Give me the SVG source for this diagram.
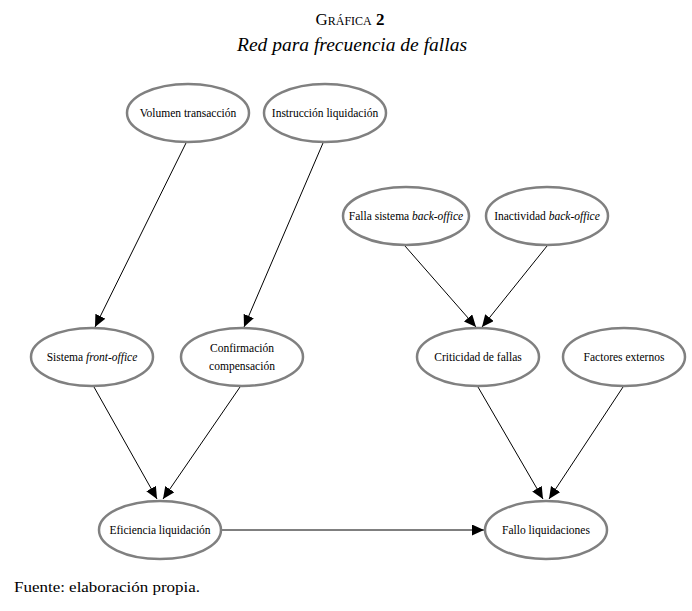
<svg xmlns="http://www.w3.org/2000/svg" width="692" height="611" viewBox="0 0 692 611">
<defs>
<style>
.node ellipse{fill:#fff;stroke:#808080;stroke-width:2.5}
.node text{font-family:"Liberation Serif","Times New Roman",serif;font-size:11.5px;fill:#000;text-anchor:middle}
.edge{stroke:#000;stroke-width:1;fill:none;marker-end:url(#arr)}
.it{font-style:italic}
.title{font-family:"Liberation Serif","Times New Roman",serif;fill:#000;text-anchor:middle}
</style>
<marker id="arr" markerUnits="userSpaceOnUse" markerWidth="14" markerHeight="12" refX="12" refY="5.5" orient="auto">
<path d="M0,0 L12,5.5 L0,11 z" fill="#000"/>
</marker>
</defs>
<rect width="692" height="611" fill="#fff"/>
<text class="title" x="350" y="25" font-size="17" style="font-variant:small-caps">Gráfica <tspan font-weight="bold">2</tspan></text>
<text class="title" x="352" y="51" font-size="18" font-style="italic" textLength="230" lengthAdjust="spacingAndGlyphs">Red para frecuencia de fallas</text>
<g id="edges">
<line class="edge" x1="186" y1="143" x2="95" y2="327"/>
<line class="edge" x1="323" y1="143" x2="244" y2="327"/>
<line class="edge" x1="405" y1="246" x2="476" y2="327"/>
<line class="edge" x1="547" y1="246" x2="482" y2="327"/>
<line class="edge" x1="94" y1="387" x2="157" y2="499"/>
<line class="edge" x1="240" y1="387" x2="163" y2="499"/>
<line class="edge" x1="478" y1="387" x2="543" y2="499"/>
<line class="edge" x1="623" y1="387" x2="549" y2="499"/>
<line class="edge" x1="222" y1="530" x2="484" y2="530"/>
</g>
<g id="n1" class="node"><ellipse cx="188" cy="113" rx="61" ry="29"/><text x="188" y="117">Volumen transacción</text></g>
<g id="n2" class="node"><ellipse cx="325" cy="113" rx="61" ry="29"/><text x="325" y="117">Instrucción liquidación</text></g>
<g id="n3" class="node"><ellipse cx="406" cy="216" rx="63" ry="29"/><text x="406" y="220">Falla sistema <tspan class="it">back-office</tspan></text></g>
<g id="n4" class="node"><ellipse cx="547" cy="216" rx="61" ry="29"/><text x="547" y="220">Inactividad <tspan class="it">back-office</tspan></text></g>
<g id="n5" class="node"><ellipse cx="92" cy="357" rx="61" ry="29"/><text x="92" y="361">Sistema <tspan class="it">front-office</tspan></text></g>
<g id="n6" class="node"><ellipse cx="242" cy="357" rx="61" ry="29"/><text x="242" y="352">Confirmación</text><text x="242" y="370">compensación</text></g>
<g id="n7" class="node"><ellipse cx="478" cy="357" rx="61" ry="29"/><text x="478" y="361">Criticidad de fallas</text></g>
<g id="n8" class="node"><ellipse cx="624" cy="357" rx="61" ry="29"/><text x="624" y="361">Factores externos</text></g>
<g id="n9" class="node"><ellipse cx="160" cy="530" rx="61" ry="29"/><text x="160" y="534">Eficiencia liquidación</text></g>
<g id="n10" class="node"><ellipse cx="546" cy="530" rx="61" ry="29"/><text x="546" y="534">Fallo liquidaciones</text></g>
<text x="14" y="592" font-family="Liberation Serif, Times New Roman, serif" font-size="15" fill="#000" textLength="186" lengthAdjust="spacingAndGlyphs">Fuente: elaboración propia.</text>
</svg>
